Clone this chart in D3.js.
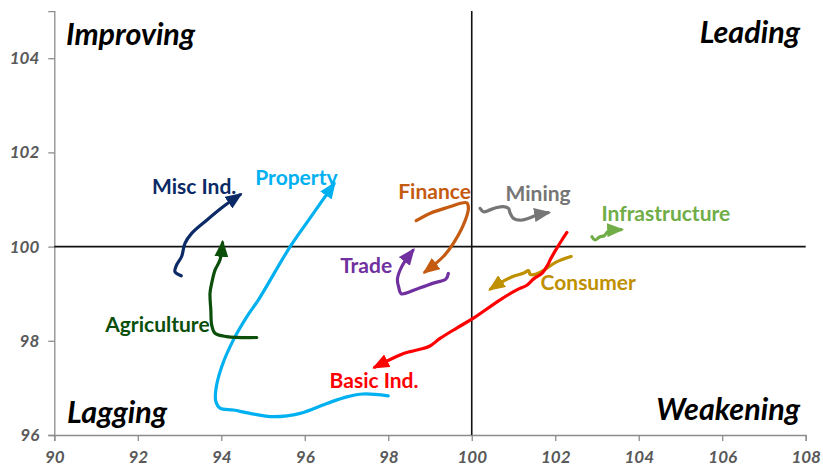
<!DOCTYPE html>
<html>
<head>
<meta charset="utf-8">
<script src="https://cdn.jsdelivr.net/npm/d3@7"></script>
<style>
body{margin:0;background:#fff;}
</style>
</head>
<body>
<div class="canvas"></div>
<script>
const canvasWidth=823,
canvasHeight=469;

// sector names, in drawing order
const SECTORS=["Property","Agriculture","Misc Ind.","Finance","Trade","Mining","Infrastructure","Consumer","Basic Ind."];

// relative strength (x) / momentum (y) trails, oldest point first
const property=[[98.00,96.83],[97.40,96.87],[97.01,96.81],[96.53,96.67],[95.89,96.46],[95.25,96.39],[94.69,96.46],[94.29,96.53],[93.97,96.57],[93.87,96.71],[93.87,96.96],[94.01,97.45],[94.29,98.02],[94.61,98.51],[94.89,98.87],[95.65,100.00],[96.13,100.61],[96.70,101.33]];
const agriculture=[[94.85,98.07],[94.13,98.09],[93.85,98.16],[93.77,98.34],[93.75,98.65],[93.73,99.01],[93.77,99.22],[93.85,99.50],[93.97,99.72],[94.03,100.08]];
const miscInd=[[93.04,99.38],[92.89,99.47],[92.93,99.61],[93.05,99.79],[93.13,100.07],[93.29,100.28],[93.65,100.56],[94.05,100.85],[94.45,101.10]];
const finance=[[98.67,100.55],[99.01,100.71],[99.49,100.85],[99.73,100.92],[99.88,100.93],[99.92,100.81],[99.80,100.46],[99.56,100.07],[99.32,99.79],[98.88,99.46]];
const trade=[[99.44,99.43],[99.38,99.31],[99.10,99.23],[98.69,99.10],[98.31,99.00],[98.25,99.14],[98.22,99.31],[98.32,99.57],[98.59,99.92]];
const mining=[[100.20,100.81],[100.28,100.74],[100.44,100.78],[100.60,100.83],[100.76,100.85],[100.88,100.81],[100.92,100.71],[101.00,100.60],[101.16,100.56],[101.36,100.60],[101.56,100.67],[101.83,100.72]];
const infrastructure=[[102.88,100.21],[102.95,100.14],[103.07,100.21],[103.17,100.23],[103.27,100.32],[103.58,100.36]];
const consumer=[[102.38,99.79],[102.02,99.67],[101.71,99.49],[101.52,99.41],[101.40,99.41],[101.36,99.49],[101.25,99.44],[101.00,99.37],[100.68,99.23],[100.45,99.10]];
const basicInd=[[102.28,100.30],[102.16,100.14],[102.00,99.91],[101.88,99.72],[101.82,99.61],[101.68,99.43],[101.49,99.32],[101.32,99.18],[101.08,99.08],[100.68,98.87],[100.04,98.48],[99.64,98.27],[99.24,98.05],[99.00,97.89],[98.76,97.82],[98.52,97.77],[98.28,97.70],[97.68,97.44]];
const TRAILS=[property,agriculture,miscInd,finance,trade,mining,infrastructure,consumer,basicInd];

// where each sector name sits, in chart units
const LABEL_AT=[[95.80,101.47],[92.47,98.34],[93.35,101.28],[99.11,101.18],[97.47,99.60],[101.59,101.12],[104.65,100.71],[102.79,99.23],[97.66,97.15]];

const COLORS=["#00B0F0","#0B4F0B","#0B2A66","#C55A11","#7030A0","#767676","#70AD47","#BF9000","#FF0000"];

const QUADRANTS=["Improving","Leading","Lagging","Weakening"];
const X_TICKS=[90,92,94,96,98,100,102,104,106,108];
const Y_TICKS=[96,98,100,102,104];

const xScale=d3.scaleLinear().domain([90,108]).range([54.3,805.7]);
const yScale=d3.scaleLinear().domain([96,105]).range([435,11.1]);

const svg=d3.select(".canvas")
 .append("svg")
 .attr("width",canvasWidth)
 .attr("height",canvasHeight)
 .style("background-color","white");

const tickFont="Lato";

// axes
const xAxis=d3.axisBottom(xScale).tickValues(X_TICKS).tickSize(6).tickPadding(10);
const yAxis=d3.axisLeft(yScale).tickValues(Y_TICKS).tickSize(6).tickPadding(9);

const gX=svg.append("g")
 .attr("id","x-axis")
 .attr("transform",`translate(0,${yScale(96)})`)
 .call(xAxis);
const gY=svg.append("g")
 .attr("id","y-axis")
 .attr("transform",`translate(${xScale(90)},0)`)
 .call(yAxis);

[gX,gY].forEach(g=>{
 g.select(".domain").attr("stroke","#8c8c8c").attr("stroke-width",1.3);
 g.selectAll(".tick line").attr("stroke","#8c8c8c").attr("stroke-width",1.3);
 g.selectAll(".tick text")
  .attr("fill","#595959")
  .style("font-family",tickFont)
  .style("font-size","17px")
  .style("font-weight","bold")
  .style("font-style","italic");
});

// crosshair at 100/100
svg.append("line")
 .attr("x1",xScale(100)).attr("x2",xScale(100))
 .attr("y1",yScale(105)).attr("y2",yScale(96))
 .attr("stroke","#111").attr("stroke-width",1.6);
svg.append("line")
 .attr("x1",xScale(90)).attr("x2",xScale(108))
 .attr("y1",yScale(100)).attr("y2",yScale(100))
 .attr("stroke","#111").attr("stroke-width",1.6);

// quadrant names
const quadPos=[
 {x:66,y:45,anchor:"start"},
 {x:800,y:43,anchor:"end"},
 {x:67,y:423,anchor:"start"},
 {x:800,y:420,anchor:"end"}
];
svg.selectAll("text.quad")
 .data(QUADRANTS)
 .enter()
 .append("text")
 .attr("class","quad")
 .attr("x",(d,i)=>quadPos[i].x)
 .attr("y",(d,i)=>quadPos[i].y)
 .attr("text-anchor",(d,i)=>quadPos[i].anchor)
 .style("font-family","Lato")
 .style("font-size","30.5px")
 .style("font-weight","bold")
 .style("font-style","italic")
 .attr("fill","#000")
 .text(d=>d);

// arrowheads
const defs=svg.append("defs");
COLORS.forEach((c,i)=>{
 defs.append("marker")
  .attr("id","arrow"+i)
  .attr("markerUnits","userSpaceOnUse")
  .attr("viewBox","0 0 17 14")
  .attr("refX",14)
  .attr("refY",7)
  .attr("markerWidth",17)
  .attr("markerHeight",14)
  .attr("orient","auto")
  .append("path")
  .attr("d","M0,0 L17,7 L0,14 Z")
  .attr("fill",c);
});

const line=d3.line()
 .x(d=>xScale(d[0]))
 .y(d=>yScale(d[1]))
 .curve(d3.curveCatmullRom.alpha(0.5));

svg.selectAll("path.trail")
 .data(TRAILS)
 .enter()
 .append("path")
 .attr("class","trail")
 .attr("d",d=>line(d))
 .attr("fill","none")
 .attr("stroke",(d,i)=>COLORS[i])
 .attr("stroke-width",3.2)
 .attr("stroke-linecap","round")
 .attr("stroke-linejoin","round")
 .attr("marker-end",(d,i)=>`url(#arrow${i})`);

svg.selectAll("text.sector")
 .data(SECTORS)
 .enter()
 .append("text")
 .attr("class","sector")
 .attr("x",(d,i)=>xScale(LABEL_AT[i][0]))
 .attr("y",(d,i)=>yScale(LABEL_AT[i][1]))
 .attr("dy","0.36em")
 .attr("text-anchor","middle")
 .style("font-family","Lato")
 .style("font-size","21px")
 .style("font-weight","bold")
 .attr("fill",(d,i)=>COLORS[i])
 .text(d=>d);
</script>
</body>
</html>
